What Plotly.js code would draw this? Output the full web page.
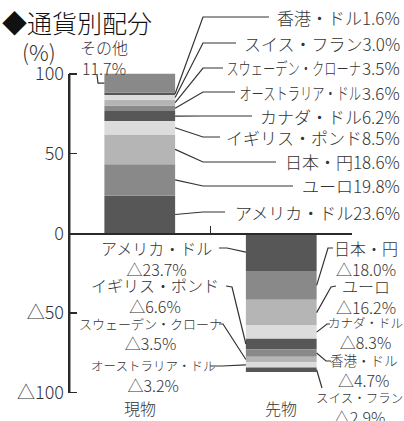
<!DOCTYPE html>
<html><head><meta charset="utf-8">
<script src="https://cdn.plot.ly/plotly-3.0.1.min.js"></script>
<style>html,body{margin:0;padding:0;background:#fff}#chart{width:404px;height:421px}</style>
</head><body><div id="chart"></div>
<script>
// ---- data ----
const categories = ['現物', '先物'];
const spotCurrencies = ['アメリカ・ドル','ユーロ','日本・円','イギリス・ポンド','カナダ・ドル','オーストラリア・ドル','スウェーデン・クローナ','スイス・フラン','香港・ドル','その他'];
const spotValues = [23.6, 19.8, 18.6, 8.5, 6.2, 3.6, 3.5, 3.0, 1.6, 11.7];
const futuresCurrencies = ['アメリカ・ドル','日本・円','ユーロ','カナダ・ドル','イギリス・ポンド','香港・ドル','スウェーデン・クローナ','オーストラリア・ドル','スイス・フラン'];
const futuresValues = [-23.7, -18.0, -16.2, -8.3, -6.6, -4.7, -3.5, -3.2, -2.9];
const yTickVals = [-100, -50, 0, 50, 100];
const yTickText = ['△100', '△50', '0', '50', '100'];
const titleText = '◆通貨別配分';
const unitText = '(%)';

// ---- layout constants ----
const W = 404, H = 421, ML = 69, MR = 52;
const X_RANGE = [-0.5, 1.5];
const Y_RANGE = [-117.83, 146.45];
const plotW = W - ML - MR;
const BAR_GAP = 0.5;
const halfBar = (1 - BAR_GAP) / 2;
const palette = ['#575757', '#898989', '#b5b5b5', '#dcdcdc'];
const ink = '#333333';
const axisInk = '#2a2a2a';
const FONT = "'Noto Sans CJK JP', 'Noto Sans', sans-serif";
const WEIGHT = 300;

const pxX = px => X_RANGE[0] + (px - ML) / plotW * (X_RANGE[1] - X_RANGE[0]);
const pxY = py => Y_RANGE[1] - py / H * (Y_RANGE[1] - Y_RANGE[0]);
const paperX = px => (px - ML) / plotW;
const paperY = py => 1 - py / H;
const valueToPaperY = v => (v - Y_RANGE[0]) / (Y_RANGE[1] - Y_RANGE[0]);

const xs = categories.map((c, i) => i);
const nLayers = Math.max(spotValues.length, futuresValues.length);
const traces = [];
for (let k = 0; k < nLayers; k++) {
  traces.push({
    type: 'bar', x: xs,
    y: [k < spotValues.length ? spotValues[k] : null, k < futuresValues.length ? futuresValues[k] : null],
    marker: {color: palette[k % 4], line: {width: 0}},
    hoverinfo: 'skip', showlegend: false
  });
}
// empty helper trace so the axis-line subplot (x, y2) exists
traces.push({type: 'scatter', mode: 'markers', x: [null], y: [null], xaxis: 'x', yaxis: 'y2',
  marker: {opacity: 0}, hoverinfo: 'skip', showlegend: false});

function mid(values, k) { let s = 0; for (let j = 0; j < k; j++) s += values[j]; return s + values[k] / 2; }
const fmtSpot = v => v.toFixed(1) + '%';
const fmtFut = v => '△' + Math.abs(v).toFixed(1) + '%';

const shapes = [];
const annotations = [];
const condensed = [];
function leader(points) {
  shapes.push({type: 'path', xref: 'x', yref: 'y', layer: 'above',
    path: 'M' + points.map(p => p[0] + ',' + p[1]).join('L'),
    line: {color: ink, width: 1.2}});
}
function label(text, px, py, xanchor, size, scale) {
  annotations.push({xref: 'paper', yref: 'paper', x: paperX(px), y: paperY(py),
    xanchor: xanchor, yanchor: 'middle', align: 'center', text: text, showarrow: false, borderpad: 0,
    font: {size: size, color: ink, family: FONT, weight: WEIGHT}});
  if (scale) condensed.push([annotations.length - 1, scale, xanchor]);
}

// y axis line between -100 and 100 (paper refs, so never clipped)
shapes.push({type: 'line', xref: 'paper', yref: 'paper', x0: 0.002, x1: 0.002,
  y0: valueToPaperY(yTickVals[0]), y1: valueToPaperY(yTickVals[yTickVals.length - 1]),
  line: {color: axisInk, width: 1.8}, layer: 'above'});

// spot labels (right side)
const spotLayout = [
  {k: 8, py: 17, lx: 269}, {k: 7, py: 43, lx: 236},
  {k: 6, py: 68, lx: 223, sc: 0.72, numX: 362}, {k: 5, py: 92, lx: 235, sc: 0.72, numX: 362},
  {k: 4, py: 116, lx: 252}, {k: 3, py: 137, lx: 220}, {k: 2, py: 162, lx: 276},
  {k: 1, py: 186, lx: 293}, {k: 0, py: 212, lx: 225}
];
spotLayout.forEach(o => {
  leader([[xs[0] + halfBar, mid(spotValues, o.k)], [pxX(203), pxY(o.py)], [pxX(o.lx), pxY(o.py)]]);
  if (o.sc) {
    label(fmtSpot(spotValues[o.k]), 401, o.py, 'right', 17);
    label(spotCurrencies[o.k], o.numX, o.py, 'right', 17, o.sc);
  } else {
    label(spotCurrencies[o.k] + fmtSpot(spotValues[o.k]), 401, o.py, 'right', 17);
  }
});
// その他
leader([[pxX(97), pxY(75)], [pxX(98), mid(spotValues, 9)], [xs[0] - halfBar, mid(spotValues, 9)]]);
label(spotCurrencies[9] + '<br>' + fmtSpot(spotValues[9]), 104, 57, 'center', 16);

// futures labels (two lines each; condensed names drawn at a smaller size)
const futLayout = [
  {k: 0, side: -1, cx: 156, py: 258, pts: [[219, 248], [227, 248]]},
  {k: 4, side: -1, cx: 155, py: 295, pts: [[226, 286], [232, 287]]},
  {k: 6, side: -1, cx: 150, py: 334, pts: [[219, 324], [223, 324]], ns: 13},
  {k: 7, side: -1, cx: 153, py: 376, pts: [[210, 366], [222, 366]], ns: 12.5},
  {k: 1, side: 1, cx: 366, py: 258, pts: [[333, 248], [328, 248]]},
  {k: 2, side: 1, cx: 366, py: 296, pts: [[336, 286], [331, 287]]},
  {k: 3, side: 1, cx: 365, py: 333, pts: [[330, 324], [327, 324]], ns: 12.5},
  {k: 5, side: 1, cx: 364, py: 371, pts: [[331, 361], [326, 361]], ns: 13.5},
  {k: 8, side: 1, cx: 359, py: 408, pts: [[322, 388]], ns: 12.5}
];
futLayout.forEach(o => {
  const p = o.pts.map(q => [pxX(q[0]), pxY(q[1])]);
  const barPt = [xs[1] + o.side * halfBar, mid(futuresValues, o.k)];
  if (o.k === 8) leader([barPt].concat(p)); else leader(p.concat([barPt]));
  const name = o.ns ? '<span style="font-size:' + o.ns + 'px">' + futuresCurrencies[o.k] + '</span>' : futuresCurrencies[o.k];
  label(name + '<br>' + fmtFut(futuresValues[o.k]), o.cx, o.py, 'center', 16);
});

// category labels
categories.forEach((c, i) => {
  annotations.push({xref: 'x', yref: 'paper', x: xs[i], y: paperY(408), xanchor: 'center', yanchor: 'middle',
    text: c, showarrow: false, borderpad: 0, font: {size: 16, color: ink, family: FONT, weight: WEIGHT}});
});
// title and unit
annotations.push({xref: 'paper', yref: 'paper', x: paperX(1), y: paperY(22), xanchor: 'left', yanchor: 'middle',
  text: titleText, showarrow: false, borderpad: 0, font: {size: 25, color: '#111111', family: FONT, weight: WEIGHT}});
annotations.push({xref: 'paper', yref: 'paper', x: paperX(21), y: paperY(51), xanchor: 'left', yanchor: 'middle',
  text: unitText, showarrow: false, borderpad: 0, font: {size: 22, color: ink, family: FONT, weight: WEIGHT}});

const layout = {
  width: W, height: H, margin: {l: ML, r: MR, t: 0, b: 0, pad: 0},
  paper_bgcolor: '#ffffff', plot_bgcolor: 'rgba(0,0,0,0)',
  font: {family: FONT, color: ink, weight: WEIGHT},
  barmode: 'relative', bargap: BAR_GAP, showlegend: false,
  xaxis: {range: X_RANGE, type: 'linear', anchor: 'free',
    position: valueToPaperY(0),
    showline: true, linecolor: axisInk, linewidth: 1.5,
    ticks: 'inside', tickmode: 'array', tickvals: xs.map(i => i + 0.5), ticklen: 7, tickwidth: 1.5, tickcolor: axisInk,
    showticklabels: false, showgrid: false, zeroline: false, fixedrange: true},
  yaxis: {range: Y_RANGE, tickmode: 'array', tickvals: yTickVals, ticktext: yTickText,
    ticks: 'inside', ticklen: 8, tickwidth: 1.5, tickcolor: axisInk, showline: false, showgrid: false, zeroline: false,
    tickfont: {size: 18, color: ink, family: FONT, weight: WEIGHT}, ticklabelstandoff: 4, fixedrange: true},
  // axis line only between -100 and 100
  yaxis2: {anchor: 'x', side: 'left', domain: [valueToPaperY(yTickVals[0]), valueToPaperY(yTickVals[yTickVals.length - 1])],
    range: [yTickVals[0], yTickVals[yTickVals.length - 1]], showline: true, linecolor: axisInk, linewidth: 1.5,
    ticks: '', showticklabels: false, showgrid: false, zeroline: false, fixedrange: true},
  shapes: shapes, annotations: annotations
};

Plotly.newPlot('chart', traces, layout, {staticPlot: true, displayModeBar: false}).then(gd => {
  condensed.forEach(([idx, sx, anchor]) => {
    const t = gd.querySelector('.annotation[data-index="' + idx + '"] text.annotation-text');
    if (t) {
      t.style.transformBox = 'fill-box';
      t.style.transformOrigin = anchor === 'right' ? 'right center' : (anchor === 'left' ? 'left center' : 'center');
      t.style.transform = 'scaleX(' + sx + ')';
    }
  });
});
</script>
</body></html>
